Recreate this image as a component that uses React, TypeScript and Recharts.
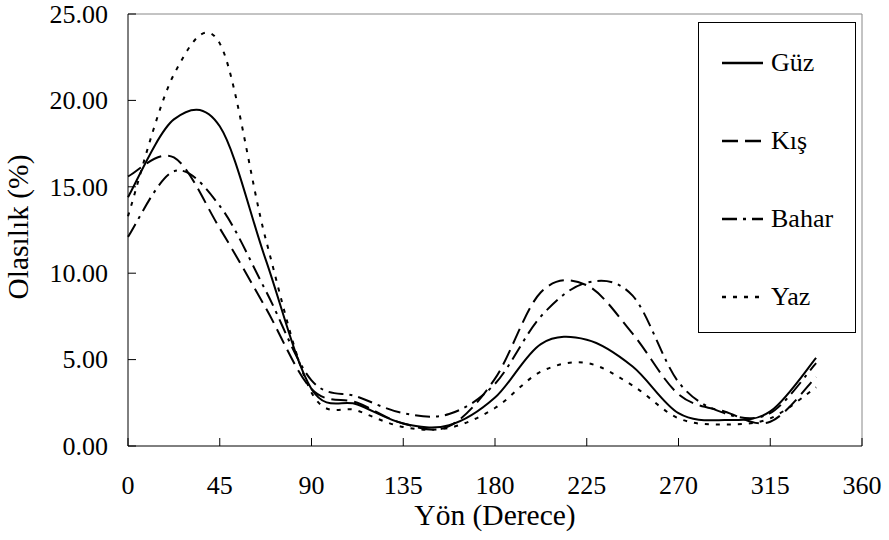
import React from "react";
import {
  LineChart,
  Line,
  XAxis,
  YAxis,
  Legend,
  ReferenceLine,
} from "recharts";

// yön açıları (derece)
const angles = [0, 22.5, 45, 67.5, 90, 112.5, 135, 157.5, 180, 202.5, 225, 247.5, 270, 292.5, 315, 337.5];

// mevsimlere göre olasılık (%)
const guz = [14.4, 18.9, 18.5, 10.8, 3.3, 2.4, 1.3, 1.2, 2.8, 5.9, 6.15, 4.6, 1.9, 1.5, 2.0, 5.1];
const kis = [15.6, 16.7, 12.6, 8.0, 3.3, 2.5, 1.3, 1.15, 3.9, 8.9, 9.3, 6.5, 3.0, 2.0, 1.4, 4.0];
const bahar = [12.1, 15.9, 13.9, 9.0, 3.8, 2.85, 1.9, 1.85, 3.6, 7.5, 9.45, 8.7, 3.7, 1.9, 1.9, 4.8];
const yaz = [13.3, 21.5, 23.3, 12.0, 3.1, 2.05, 1.1, 1.05, 2.2, 4.3, 4.8, 3.5, 1.6, 1.25, 1.6, 3.4];

const seriesNames = ["Güz", "Kış", "Bahar", "Yaz"];
const seriesKeys = ["guz", "kis", "bahar", "yaz"];
const xTicks = [0, 45, 90, 135, 180, 225, 270, 315, 360];
const yTicks = [0, 5, 10, 15, 20, 25];

const DASHES = ["", "16 7", "15 6 3 6", "4 7"];
const FONT = "'Liberation Serif', 'DejaVu Serif', serif";

const W = 889;
const H = 540;
const PLOT_LEFT = 128;
const PLOT_TOP = 14;
const PLOT_RIGHT = 862;
const PLOT_BOTTOM = 446;

const data = angles.map((a, i) => ({
  yon: a,
  guz: guz[i],
  kis: kis[i],
  bahar: bahar[i],
  yaz: yaz[i],
}));

// Excel'deki "düzgün çizgi" benzeri (Catmull-Rom -> Bezier)
function smoothCurve(context: any) {
  let pts: [number, number][] = [];
  return {
    areaStart() {},
    areaEnd() {},
    lineStart() {
      pts = [];
    },
    point(x: number, y: number) {
      pts.push([+x, +y]);
    },
    lineEnd() {
      const n = pts.length;
      if (!n) return;
      context.moveTo(pts[0][0], pts[0][1]);
      for (let i = 0; i < n - 1; i++) {
        const p0 = pts[Math.max(i - 1, 0)];
        const p1 = pts[i];
        const p2 = pts[i + 1];
        const p3 = pts[Math.min(i + 2, n - 1)];
        context.bezierCurveTo(
          p1[0] + (p2[0] - p0[0]) / 6,
          p1[1] + (p2[1] - p0[1]) / 6,
          p2[0] - (p3[0] - p1[0]) / 6,
          p2[1] - (p3[1] - p1[1]) / 6,
          p2[0],
          p2[1]
        );
      }
    },
  };
}

const XTick = (props: any) => {
  const { x, payload } = props;
  return (
    <g>
      <line x1={x} x2={x} y1={PLOT_BOTTOM} y2={PLOT_BOTTOM - 8} stroke="#000" />
      <text x={x} y={PLOT_BOTTOM + 48} textAnchor="middle" fill="#000" fontFamily={FONT} fontSize={26}>
        {payload.value}
      </text>
    </g>
  );
};

const YTick = (props: any) => {
  const { y, payload } = props;
  return (
    <g>
      <line x1={PLOT_LEFT} x2={PLOT_LEFT + 8} y1={y} y2={y} stroke="#000" />
      <text x={PLOT_LEFT - 20} y={y + 8.8} textAnchor="end" fill="#000" fontFamily={FONT} fontSize={26}>
        {Number(payload.value).toFixed(2)}
      </text>
    </g>
  );
};

const XTitle = () => (
  <text x={(PLOT_LEFT + PLOT_RIGHT) / 2} y={525} textAnchor="middle" fill="#000" fontFamily={FONT} fontSize={29.5}>
    Yön (Derece)
  </text>
);

const YTitle = () => (
  <text transform="rotate(-90)" x={-227} y={28} textAnchor="middle" fill="#000" fontFamily={FONT} fontSize={29.5}>
    Olasılık (%)
  </text>
);

const renderLegend = () => (
  <div
    style={{
      width: 158,
      height: 311,
      border: "1px solid #000",
      boxSizing: "border-box",
      background: "#fff",
      position: "relative",
      fontFamily: FONT,
      color: "#000",
    }}
  >
    {seriesNames.map((name, i) => (
      <div
        key={name}
        style={{
          position: "absolute",
          left: 23,
          top: 40 + i * 78 - 15,
          height: 30,
          display: "flex",
          alignItems: "center",
          whiteSpace: "nowrap",
        }}
      >
        <svg width={41} height={6} style={{ display: "block" }}>
          <line x1={0} y1={3} x2={41} y2={3} stroke="#000" strokeWidth={2.5} strokeDasharray={DASHES[i]} />
        </svg>
        <span style={{ marginLeft: 8, fontSize: 26, lineHeight: "30px" }}>{name}</span>
      </div>
    ))}
  </div>
);

export default function App() {
  return (
    <div style={{ position: "absolute", left: 0, top: 0, width: W, height: H, background: "#fff" }}>
      <LineChart
        width={W}
        height={H}
        data={data}
        margin={{ top: PLOT_TOP, right: W - PLOT_RIGHT, bottom: 0, left: 0 }}
      >
        <XAxis
          dataKey="yon"
          type="number"
          domain={[0, 360]}
          ticks={xTicks}
          interval={0}
          height={H - PLOT_BOTTOM}
          axisLine={{ stroke: "#000" }}
          tickLine={false}
          tick={(p: any) => <XTick {...p} />}
          label={<XTitle />}
        />
        <YAxis
          type="number"
          domain={[0, 25]}
          ticks={yTicks}
          interval={0}
          width={PLOT_LEFT}
          axisLine={{ stroke: "#000" }}
          tickLine={false}
          tick={(p: any) => <YTick {...p} />}
          label={<YTitle />}
        />
        <ReferenceLine y={25} stroke="#888" />
        <ReferenceLine x={360} stroke="#888" />
        {seriesKeys.map((k, i) => (
          <Line
            key={k}
            dataKey={k}
            name={seriesNames[i]}
            type={smoothCurve as any}
            stroke="#000"
            strokeWidth={2}
            strokeDasharray={DASHES[i]}
            dot={false}
            activeDot={false}
            isAnimationActive={false}
          />
        ))}
        <Legend
          layout="vertical"
          align="center"
          verticalAlign="middle"
          wrapperStyle={{ left: 698, top: 22, width: 158, height: 311 }}
          content={renderLegend}
        />
      </LineChart>
    </div>
  );
}
